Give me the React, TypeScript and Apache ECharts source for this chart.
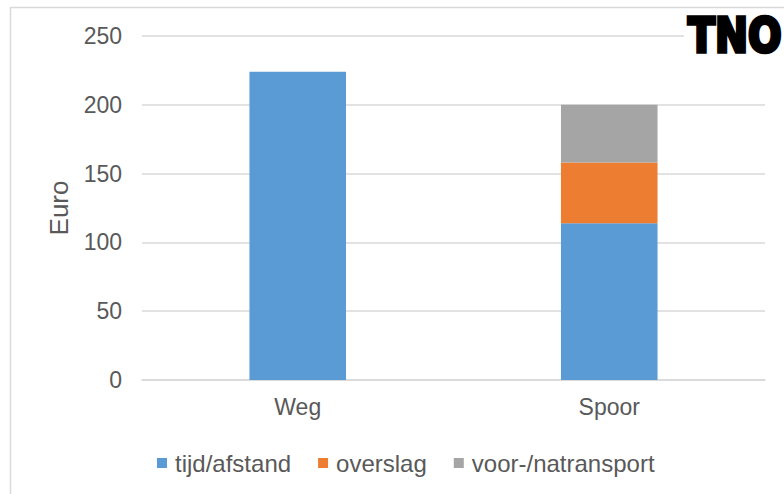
import React, { useEffect, useRef } from "react";
import * as echarts from "echarts";

const categories = ["Weg", "Spoor"];
const seriesNames = ["tijd/afstand", "overslag", "voor-/natransport"];
const tijdAfstand = [224, 114];
const overslag = [0, 44];
const voorNatransport = [0, 42];
const colors = ["#5B9BD5", "#ED7D31", "#A5A5A5"];
const yTicks = { min: 0, max: 250, interval: 50 };
const yAxisName = "Euro";
const logoText = "TNO";

export default function App() {
  const ref = useRef<HTMLDivElement>(null);
  useEffect(() => {
    if (!ref.current) return;
    const chart = echarts.init(ref.current, undefined, { renderer: "svg" });
    const font = "'Liberation Sans', Arial, sans-serif";
    const values = [tijdAfstand, overslag, voorNatransport];
    chart.setOption({
      animation: false,
      backgroundColor: "#ffffff",
      textStyle: { fontFamily: font },
      grid: { left: 142, right: 19, top: 36, bottom: 114 },
      legend: {
        left: 152,
        top: 446,
        itemWidth: 10,
        itemHeight: 10,
        itemGap: 27,
        icon: "rect",
        textStyle: {
          fontSize: 24,
          color: "#595959",
          fontFamily: font,
          padding: [0, 0, 0, 3],
        },
        data: seriesNames,
      },
      xAxis: {
        type: "category",
        data: categories,
        axisLine: { show: true, lineStyle: { color: "#D9D9D9", width: 1.5 } },
        axisTick: { show: false },
        axisLabel: { fontSize: 23, color: "#595959", margin: 15, fontFamily: font },
      },
      yAxis: {
        type: "value",
        min: yTicks.min,
        max: yTicks.max,
        interval: yTicks.interval,
        name: yAxisName,
        nameLocation: "middle",
        nameGap: 70,
        nameRotate: 90,
        nameTextStyle: { fontSize: 26, color: "#595959", fontFamily: font },
        axisLine: { show: false },
        axisTick: { show: false },
        axisLabel: { fontSize: 23, color: "#595959", margin: 20, fontFamily: font },
        splitLine: { lineStyle: { color: "#D9D9D9", width: 1.5 } },
      },
      series: seriesNames.map((name, i) => ({
        name,
        type: "bar",
        stack: "total",
        data: values[i],
        barWidth: "31%",
        itemStyle: { color: colors[i] },
      })),
      color: colors,
      graphic: [
        {
          type: "rect",
          z: 100,
          shape: { x: 10.5, y: 7.5, width: 800, height: 500 },
          style: { fill: "none", stroke: "#D9D9D9", lineWidth: 1.5 },
          silent: true,
        },
        {
          type: "rect",
          z: 100,
          shape: { x: 684, y: 12, width: 100, height: 45 },
          style: { fill: "#ffffff" },
          silent: true,
        },
        {
          type: "text",
          z: 101,
          x: 688,
          y: 35,
          scaleX: 0.76,
          scaleY: 0.92,
          style: {
            text: logoText,
            fill: "#000000",
            stroke: "#000000",
            lineWidth: 4,
            lineJoin: "round",
            font: "900 52px 'DejaVu Sans', sans-serif",
            verticalAlign: "middle",
            align: "left",
          },
          silent: true,
        },
      ],
    });
    return () => chart.dispose();
  }, []);
  return (
    <div
      ref={ref}
      style={{ position: "fixed", left: 0, top: 0, width: 784, height: 494 }}
    />
  );
}
